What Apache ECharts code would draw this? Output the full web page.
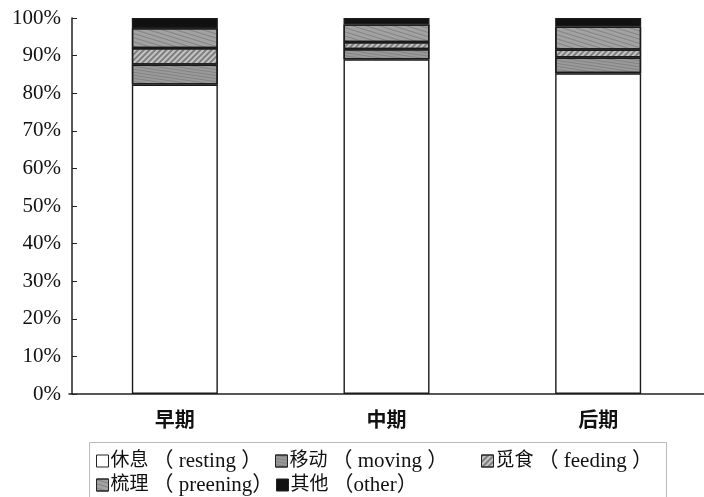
<!DOCTYPE html>
<html>
<head>
<meta charset="utf-8">
<script src="https://cdn.jsdelivr.net/npm/echarts@6/dist/echarts.min.js"></script>
<style>
  html, body { margin: 0; padding: 0; background: #fff; }
  #chart { width: 704px; height: 497px; }
</style>
</head>
<body>
<div id="chart"></div>
<script>
// Activity budget by period (percent of time)
const categories = ['早期', '中期', '后期'];
const seriesNames = ['休息', '移动', '觅食', '梳理', '其他'];
const seriesGloss = ['（ resting ）', '（ moving ）', '（ feeding ）', '（ preening）', '（other）'];
const resting  = [82.3, 89.0, 85.3];
const moving   = [5.3, 2.7, 4.2];
const feeding  = [4.4, 1.9, 2.1];
const preening = [5.3, 4.7, 6.1];
const other    = [2.7, 1.7, 2.3];
const yTicks = [0, 10, 20, 30, 40, 50, 60, 70, 80, 90, 100];

const serifFont = '"Liberation Serif", "Noto Sans CJK SC", serif';
const values = [resting, moving, feeding, preening, other];

const fills = [
  { color: '#ffffff' },
  { color: '#9a9a9a', decal: { symbol: 'rect', dashArrayX: [1, 0], dashArrayY: [1, 2], rotation: 0.15, color: 'rgba(60,60,60,0.25)', symbolSize: 1 } },
  { color: '#c4c4c4', decal: { symbol: 'rect', dashArrayX: [1, 0], dashArrayY: [2, 2], rotation: -Math.PI / 4, color: 'rgba(70,70,70,0.55)', symbolSize: 1 } },
  { color: '#a2a2a2', decal: { symbol: 'rect', dashArrayX: [1, 0], dashArrayY: [1, 3], rotation: 0.3, color: 'rgba(60,60,60,0.3)', symbolSize: 1 } },
  { color: '#111111' }
];

const series = seriesNames.map((name, i) => ({
  name: name,
  type: 'bar',
  stack: 'total',
  barWidth: 86,
  data: values[i],
  itemStyle: Object.assign({ borderColor: '#1a1a1a', borderWidth: 1.4 }, fills[i])
}));

// one legend per entry so each sits in its own column of the boxed key
const legendSpots = [
  { left: 91, top: 444 },
  { left: 270, top: 444 },
  { left: 476, top: 444 },
  { left: 91, top: 468 },
  { left: 271, top: 468 }
];
const legends = seriesNames.map((name, i) => ({
  data: [name],
  left: legendSpots[i].left,
  top: legendSpots[i].top,
  itemWidth: 12,
  itemHeight: 12,
  itemGap: 0,
  selectedMode: false,
  icon: 'rect',
  itemStyle: { borderColor: '#222', borderWidth: 1 },
  formatter: n => '{c|' + n + '}{g|' + seriesGloss[seriesNames.indexOf(n)] + '}',
  textStyle: {
    color: '#111',
    padding: [0, 0, 0, -3],
    rich: {
      c: { fontFamily: '"Noto Sans CJK SC", serif', fontSize: 19, color: '#111', lineHeight: 20, verticalAlign: 'middle', padding: [0, 0, 5, 0] },
      g: { fontFamily: serifFont, fontSize: 21, color: '#111', lineHeight: 24, verticalAlign: 'middle', padding: [0, 0, 0, 4] }
    }
  }
}));

const chart = echarts.init(document.getElementById('chart'), null, { renderer: 'canvas' });
chart.setOption({
  backgroundColor: '#ffffff',
  animation: false,
  aria: { enabled: false },
  legend: legends,
  grid: { left: 69, top: 18, width: 640, height: 376, containLabel: false },
  xAxis: {
    type: 'category',
    data: categories,
    axisLine: { lineStyle: { color: '#222', width: 1.5 } },
    axisTick: { show: false },
    axisLabel: { fontFamily: '"Noto Sans CJK SC", serif', fontWeight: 'bold', fontSize: 20, color: '#111', margin: 15 }
  },
  yAxis: {
    type: 'value',
    min: yTicks[0],
    max: yTicks[yTicks.length - 1],
    interval: 10,
    offset: -3,
    splitLine: { show: false },
    axisLine: { show: true, lineStyle: { color: '#222', width: 1.5 } },
    axisTick: { show: true, inside: true, length: 5, lineStyle: { color: '#222' } },
    axisLabel: { formatter: '{value}%', fontFamily: serifFont, fontSize: 21, color: '#111', margin: 11 }
  },
  series: series,
  graphic: [{
    type: 'rect',
    left: 87,
    top: 440,
    shape: { width: 577, height: 70 },
    style: { fill: 'none', stroke: '#bbbbbb', lineWidth: 1 },
    silent: true,
    z: -1
  }]
});
</script>
</body>
</html>
